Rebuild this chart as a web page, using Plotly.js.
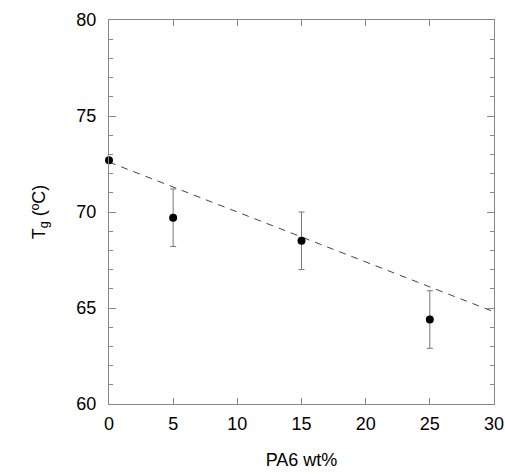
<!DOCTYPE html>
<html><head><meta charset="utf-8">
<script src="https://cdn.plot.ly/plotly-3.0.1.min.js"></script>
<style>html,body{margin:0;padding:0;background:#fff}#c{width:505px;height:474px}</style>
</head><body><div id="c"></div>
<script>
const pa6 = [0, 5, 15, 25];
const tg = [72.7, 69.7, 68.5, 64.4];
const tgErr = [0, 1.5, 1.5, 1.5];
const fitX = [0, 30];
const fitY = [72.6, 64.8];

const FONT = 'Liberation Sans, Arial, sans-serif';
const data = [
  {x: fitX, y: fitY, mode: 'lines', line: {color: '#444', width: 1, dash: '7px,6px'}, hoverinfo: 'skip'},
  {x: pa6, y: tg, mode: 'markers', marker: {color: '#000', size: 8}, cliponaxis: false,
   error_y: {type: 'data', array: tgErr, visible: true, color: '#777', thickness: 1, width: 3}}
];
const axisCommon = {
  showgrid: false, zeroline: false, showline: true, linecolor: '#888', linewidth: 1,
  mirror: 'ticks', ticks: 'inside', tickcolor: '#888', tickwidth: 1,
  tickfont: {family: FONT, size: 18, color: '#000000'}
};
const layout = {
  width: 505, height: 474, showlegend: false,
  paper_bgcolor: '#fff', plot_bgcolor: '#fff',
  margin: {l: 109, r: 11, t: 20, b: 70},
  xaxis: Object.assign({}, axisCommon, {range: [0, 30], tickvals: [0,5,10,15,20,25,30], ticklen: 6,
    ticklabelstandoff: 3,
    title: {text: 'PA6 wt%', font: {family: FONT, size: 18, color: '#000000'}, standoff: 20}}),
  yaxis: Object.assign({}, axisCommon, {range: [60, 80], tickvals: [60,65,70,75,80], ticklen: 7,
    ticklabelstandoff: 8,
    minor: {dtick: 1, ticks: 'inside', ticklen: 4, tickcolor: '#888', showgrid: false},
    title: {text: 'T<sub>g</sub> (ºC)', font: {family: FONT, size: 18, color: '#000000'}, standoff: 26}})
};
Plotly.newPlot('c', data, layout, {displayModeBar: false, staticPlot: true});
</script>
</body></html>
